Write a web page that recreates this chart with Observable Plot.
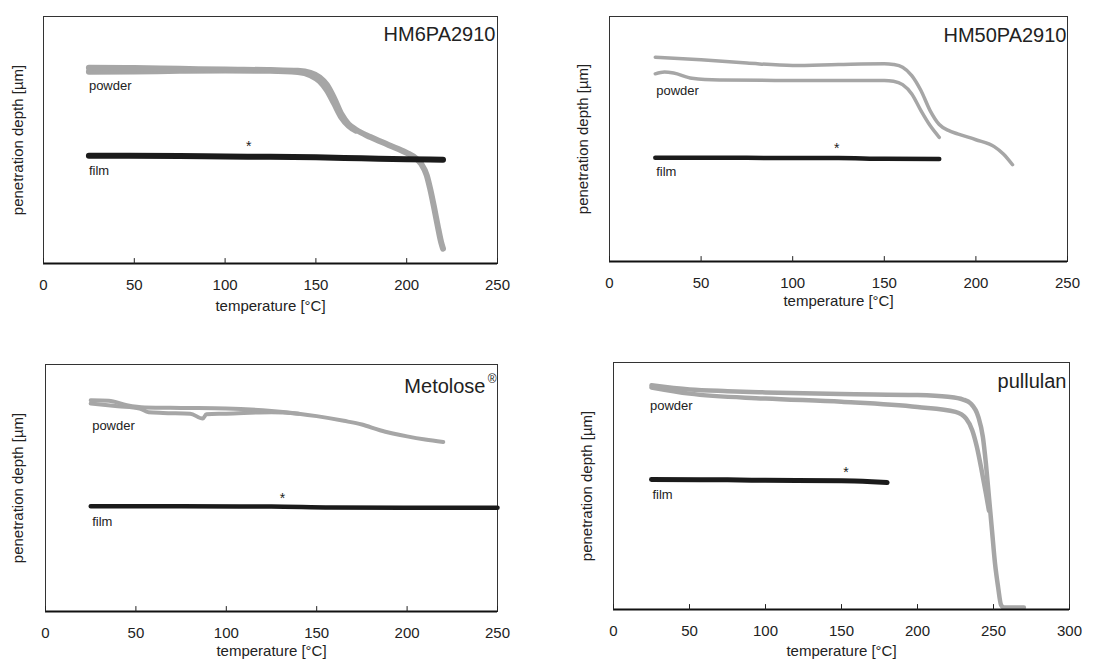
<!DOCTYPE html>
<html><head><meta charset="utf-8">
<script src="https://cdn.jsdelivr.net/npm/d3@7"></script>
<script src="https://cdn.jsdelivr.net/npm/@observablehq/plot@0.6"></script>
<style>
body{margin:0;background:#fff;}
#wrap{position:relative;width:1097px;height:664px;overflow:hidden;}
#wrap > svg{position:absolute;}
</style>
</head><body><div id="wrap"></div>
<script>
// ---------- data (temperature °C, relative penetration depth) ----------
const ticks250 = [0, 50, 100, 150, 200, 250];
const ticks300 = [0, 50, 100, 150, 200, 250, 300];

const titles = ["HM6PA2910", "HM50PA2910", "Metolose", "pullulan"];
const xLabel = "temperature [°C]";
const yLabel = "penetration depth [µm]";

// HM6PA2910
const hm6PowderA = [[25,79.3],[50,79.1],[75,78.8],[100,78.5],[125,78.3],[140,78.0],[147,77.2],[152,75.4],[156,72.4],[160,67],[164,60.5],[168,56.4],[172,54.2],[180,51.2],[190,48],[200,44.8],[205,42.6],[208,40.3],[211,35.8],[213,30],[215,23],[217,15.5],[219,8.5],[220,6]];
const hm6PowderB = [[25,77.6],[50,77.7],[75,78.0],[100,78.1],[125,78.0],[140,77.5],[147,76.2],[152,73.8],[156,70.2],[160,64.8],[164,59.2],[168,55.8],[172,53.8]];
const hm6Film = [[25,43.6],[75,43.5],[100,43.3],[125,43.2],[150,43.0],[175,42.6],[200,42.2],[220,42.0]];
const hm6Star = [[113,47.2]];

// HM50PA2910
const hm50PowderA = [[25,83.4],[50,82.3],[75,81.0],[100,80.0],[125,80.4],[150,80.7],[155,80.4],[160,79.3],[165,75.9],[170,69.8],[175,61.6],[180,55.9],[185,53.5],[190,52.1],[200,49.7],[210,46.9],[215,43.9],[220,39.5]];
const hm50PowderB = [[25,76.6],[30,77.3],[35,76.9],[45,74.8],[60,74.1],[100,73.9],[150,73.9],[155,73.6],[160,72.2],[165,68.4],[170,61.6],[175,55.5],[180,50.7]];
const hm50Film = [[25,42.3],[75,42.3],[125,42.2],[150,41.9],[180,41.8]];
const hm50Star = [[124,46]];

// Metolose
const metPowderA = [[25,85.5],[35,85.3],[45,83.5],[55,82.6],[75,82.4],[100,82.2],[125,81.2],[140,80.1],[150,79.1],[165,77.2],[175,75.7],[185,73.4],[200,70.9],[210,69.6],[220,68.6]];
const metPowderB = [[25,84.2],[40,83.1],[52,82.2],[57,80.7],[65,80.4],[80,80.1],[87,78.1],[89,79.9],[100,80.1],[125,80.7],[140,80.1]];
const metFilm = [[25,42.6],[75,42.6],[125,42.5],[158,42.1],[200,42.0],[250,42.0]];
const metStar = [[131,45.7]];

// pullulan
const pulPowderA = [[25,90.8],[50,89.1],[75,88.4],[100,87.9],[150,87.2],[200,86.8],[220,86.1],[230,85.0],[235,83.4],[240,78],[243,69.9],[245,59.1],[247,45.6],[249,32.1],[251,18.6],[253,9.2],[255,1.8],[257,0.8],[270,0.8]];
const pulPowderB = [[25,89.9],[50,87.4],[100,85.4],[150,84.1],[200,82],[225,80],[232,77.3],[236,72.6],[239,66],[242,57],[245,47],[247,40]];
const pulFilm = [[25,52.6],[75,52.5],[100,52.3],[150,52.1],[170,51.7],[180,51.4]];
const pulStar = [[153,55.3]];

// ---------- drawing ----------
const font = "'Liberation Sans', Arial, Helvetica, sans-serif";
const grey = "#a6a6a6", black = "#1b1b1b", ink = "#222";
const upTick = {draw(context, l) { context.moveTo(0, 0); context.lineTo(0, -l); }};

function panel(cfg) {
  const marks = [
    Plot.frame({stroke: "#333", strokeWidth: 1}),
    Plot.line(cfg.powderB, {x: d => d[0], y: d => d[1], stroke: grey, strokeWidth: cfg.pw, curve: "monotone-x", strokeLinecap: "round"}),
    Plot.line(cfg.powderA, {x: d => d[0], y: d => d[1], stroke: grey, strokeWidth: cfg.pw, curve: "monotone-x", strokeLinecap: "round"}),
    Plot.line(cfg.film, {x: d => d[0], y: d => d[1], stroke: black, strokeWidth: cfg.fw, curve: "monotone-x", strokeLinecap: "round"}),
    Plot.text(cfg.star, {x: d => d[0], y: d => d[1], text: () => "*", fontSize: 14, fill: ink}),
    Plot.text([cfg.powderLabel], {x: d => d[0], y: d => d[1], text: () => "powder", textAnchor: "start", fontSize: 13, fill: ink}),
    Plot.text([cfg.filmLabel], {x: d => d[0], y: d => d[1], text: () => "film", textAnchor: "start", fontSize: 13, fill: ink}),
    Plot.ruleY([0], {stroke: "#111", strokeWidth: 2}),
    Plot.vector(cfg.ticks, {x: d => d, frameAnchor: "bottom", length: 5, rotate: 0, anchor: "start", shape: upTick, stroke: "#222", strokeWidth: 1}),
    Plot.axisX(cfg.ticks, {tickSize: 0, tickPadding: 16, fontSize: 15, label: null, fill: ink}),
    Plot.text([xLabel], {frameAnchor: "bottom", dy: cfg.xlDy, text: d => d, fontSize: 15, fill: ink}),
    Plot.text([yLabel], {frameAnchor: "left", dx: cfg.ylDx, rotate: -90, textAnchor: "middle", text: d => d, fontSize: 15, fill: ink}),
    Plot.text([cfg.title], {x: cfg.ticks[cfg.ticks.length - 1], y: cfg.titleY, dx: cfg.titleDx, text: d => d, textAnchor: "end", fontSize: 20, fill: ink})
  ];
  if (cfg.sup) marks.push(Plot.text([cfg.sup], {x: cfg.ticks[cfg.ticks.length - 1], y: cfg.titleY + 3, dx: -1, text: d => d, textAnchor: "end", fontSize: 12, fill: ink}));
  const svg = Plot.plot({
    width: cfg.w, height: cfg.h,
    marginLeft: cfg.ml, marginRight: cfg.mr, marginTop: cfg.mt, marginBottom: cfg.mb,
    x: {domain: [cfg.ticks[0], cfg.ticks[cfg.ticks.length - 1]], label: null},
    y: {domain: [0, 100], axis: null},
    style: {fontFamily: font, fontSize: "15px", background: "transparent", color: ink, overflow: "visible"},
    marks
  });
  svg.style.left = cfg.left + "px";
  svg.style.top = cfg.top + "px";
  document.getElementById("wrap").appendChild(svg);
}

panel({left: 0, top: 0, w: 548, h: 330, ml: 43, mr: 51, mt: 16, mb: 67,
  ticks: ticks250, powderA: hm6PowderA, powderB: hm6PowderB, film: hm6Film, star: hm6Star,
  powderLabel: [25, 72], filmLabel: [25, 37.4], title: titles[0], titleY: 92.6, titleDx: -2,
  pw: 6, fw: 6, xlDy: 47, ylDx: -25});
panel({left: 560, top: 0, w: 537, h: 330, ml: 49, mr: 30, mt: 16, mb: 69,
  ticks: ticks250, powderA: hm50PowderA, powderB: hm50PowderB, film: hm50Film, star: hm50Star,
  powderLabel: [25.5, 69.5], filmLabel: [25.5, 36.5], title: titles[1], titleY: 92.2, titleDx: -1,
  pw: 3.5, fw: 4.5, xlDy: 44, ylDx: -26});
panel({left: 0, top: 330, w: 548, h: 334, ml: 45, mr: 51, mt: 34, mb: 53,
  ticks: ticks250, powderA: metPowderA, powderB: metPowderB, film: metFilm, star: metStar,
  powderLabel: [25.8, 75], filmLabel: [25.8, 36.2], title: titles[2], titleY: 91, titleDx: -12, sup: "®",
  pw: 4, fw: 4.5, xlDy: 44, ylDx: -27});
panel({left: 560, top: 330, w: 537, h: 334, ml: 53, mr: 28, mt: 32, mb: 55,
  ticks: ticks300, powderA: pulPowderA, powderB: pulPowderB, film: pulFilm, star: pulStar,
  powderLabel: [24, 82.3], filmLabel: [25.6, 46.6], title: titles[3], titleY: 92.2, titleDx: -3,
  pw: 4.5, fw: 5, xlDy: 46, ylDx: -26});
</script>
</body></html>
